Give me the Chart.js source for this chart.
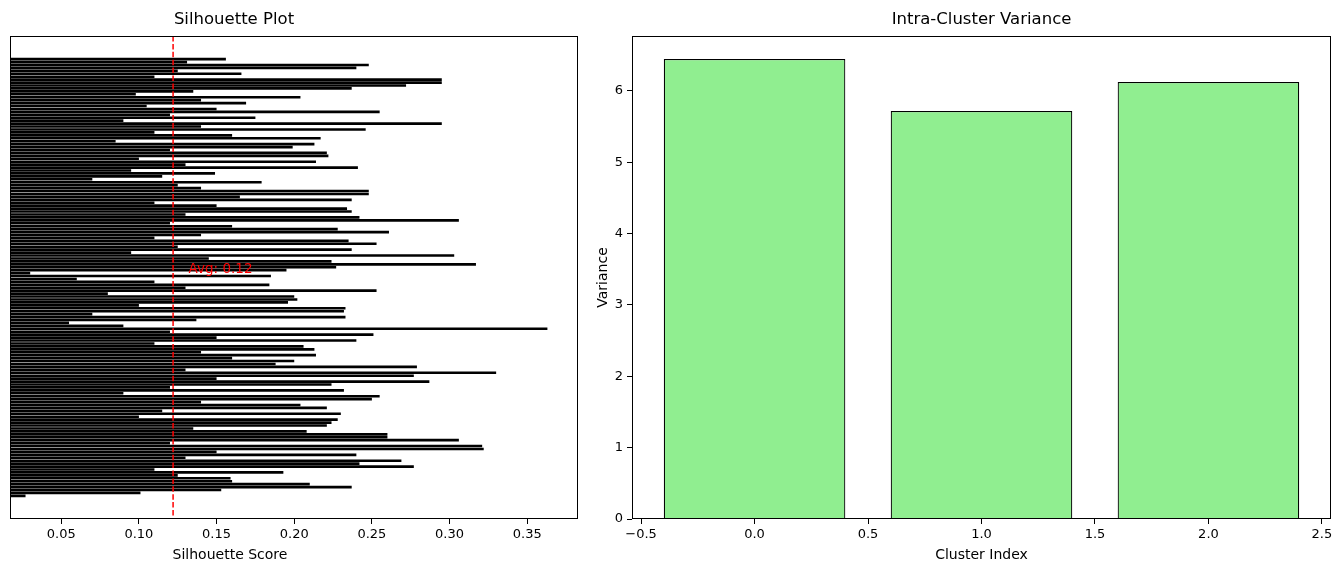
<!DOCTYPE html>
<html>
<head>
<meta charset="utf-8">
<script src="https://cdn.jsdelivr.net/npm/chart.js"></script>
<style>
  html, body { margin: 0; padding: 0; background: #fff; }
  body { width: 1341px; height: 573px; position: relative; overflow: hidden; }
  .box { position: absolute; top: 0; height: 573px; }
  #leftBox { left: 0; width: 600px; }
  #rightBox { left: 580px; width: 761px; }
</style>
</head>
<body>
<div id="leftBox" class="box"><canvas id="silhouetteChart"></canvas></div>
<div id="rightBox" class="box"><canvas id="varianceChart"></canvas></div>
<script>
// silhouette score per sample, sample 0 is the bottom bar
var silhouetteScores = [
  0.027, 0.101, 0.153, 0.237, 0.210, 0.160, 0.159, 0.125, 0.193, 0.110,
  0.277, 0.242, 0.269, 0.130, 0.240, 0.150, 0.322, 0.321, 0.120, 0.306,
  0.260, 0.260, 0.208, 0.135, 0.221, 0.224, 0.228, 0.100, 0.230, 0.115,
  0.221, 0.204, 0.140, 0.250, 0.255, 0.090, 0.232, 0.120, 0.224, 0.287,
  0.150, 0.277, 0.330, 0.130, 0.279, 0.188, 0.200, 0.160, 0.214, 0.140,
  0.213, 0.206, 0.110, 0.240, 0.150, 0.251, 0.120, 0.363, 0.090, 0.055,
  0.137, 0.233, 0.070, 0.232, 0.233, 0.100, 0.196, 0.202, 0.200, 0.080,
  0.253, 0.130, 0.184, 0.110, 0.060, 0.185, 0.030, 0.195, 0.227, 0.317,
  0.224, 0.145, 0.303, 0.095, 0.237, 0.125, 0.253, 0.235, 0.110, 0.140,
  0.261, 0.228, 0.160, 0.120, 0.306, 0.242, 0.130, 0.237, 0.234, 0.150,
  0.110, 0.237, 0.165, 0.248, 0.248, 0.140, 0.125, 0.179, 0.070, 0.115,
  0.149, 0.095, 0.241, 0.130, 0.214, 0.100, 0.222, 0.221, 0.120, 0.199,
  0.213, 0.085, 0.217, 0.160, 0.110, 0.246, 0.140, 0.295, 0.090, 0.175,
  0.120, 0.255, 0.150, 0.105, 0.169, 0.140, 0.204, 0.098, 0.135, 0.237,
  0.272, 0.295, 0.295, 0.110, 0.166, 0.125, 0.240, 0.248, 0.131, 0.156
];
var avgScore = 0.122;
var scoreTicks = [0.05, 0.10, 0.15, 0.20, 0.25, 0.30, 0.35];

var clusterIds = [0, 1, 2];
var clusterVariance = [6.449, 5.72, 6.126];
var clusterTicks = [-0.5, 0.0, 0.5, 1.0, 1.5, 2.0, 2.5];
var varianceTicks = [0, 1, 2, 3, 4, 5, 6];

var FONT = 'DejaVu Sans';

// box around the axes like matplotlib
var framePlugin = {
    id: 'frame',
    afterDraw: function(chart) {
        var a = chart.chartArea, ctx = chart.ctx;
        ctx.save();
        ctx.strokeStyle = '#000';
        ctx.lineWidth = 1;
        ctx.strokeRect(Math.round(a.left) + 0.5, Math.round(a.top) + 0.5,
            Math.round(a.right - a.left) - 1, Math.round(a.bottom - a.top) - 1);
        ctx.restore();
    }
};

// titles and axis labels
var textPlugin = {
    id: 'texts',
    afterDraw: function(chart, args, opts) {
        var ctx = chart.ctx, a = chart.chartArea;
        (opts.items || []).forEach(function(it) {
            ctx.save();
            ctx.fillStyle = it.color || '#000';
            ctx.font = it.size + 'px "' + FONT + '"';
            ctx.textAlign = 'center';
            ctx.textBaseline = 'middle';
            var x = it.x != null ? it.x : (a.left + a.right) / 2;
            var y = it.y != null ? it.y : (a.top + a.bottom) / 2;
            ctx.translate(x, y);
            if (it.rotate) ctx.rotate(it.rotate);
            ctx.fillText(it.text, 0, 0);
            ctx.restore();
        });
    }
};

// dashed average line + label
var avgPlugin = {
    id: 'avgLine',
    afterDatasetsDraw: function(chart) {
        var ctx = chart.ctx, a = chart.chartArea;
        var xs = chart.scales.x, ys = chart.scales.y;
        var px = xs.getPixelForValue(avgScore);
        ctx.save();
        ctx.strokeStyle = '#ff0000';
        ctx.lineWidth = 1.5;
        ctx.setLineDash([5.5, 2.4]);
        ctx.beginPath();
        ctx.moveTo(px, a.top);
        ctx.lineTo(px, a.bottom);
        ctx.stroke();
        ctx.setLineDash([]);
        ctx.fillStyle = '#ff0000';
        ctx.font = '13.5px "' + FONT + '"';
        ctx.textAlign = 'left';
        ctx.textBaseline = 'bottom';
        ctx.fillText('Avg: ' + avgScore.toFixed(2), xs.getPixelForValue(avgScore + 0.01),
            ys.getPixelForValue(silhouetteScores.length / 2));
        ctx.restore();
    }
};

var tickFont = { family: FONT, size: 13 };
var tickGrid = { drawOnChartArea: false, drawTicks: true, tickLength: 5, tickColor: '#000', color: '#000' };

document.addEventListener('DOMContentLoaded', function() {
    var n = silhouetteScores.length;
    var silData = silhouetteScores.map(function(v, i) { return { x: v, y: i }; });

    new Chart(document.getElementById('silhouetteChart').getContext('2d'), {
        type: 'bar',
        data: {
            datasets: [{
                data: silData,
                backgroundColor: '#000',
                borderWidth: 0,
                barPercentage: 0.9,
                categoryPercentage: 1.0
            }]
        },
        options: {
            indexAxis: 'y',
            responsive: true,
            maintainAspectRatio: false,
            animation: false,
            layout: { padding: { left: 10, right: 22, top: 36, bottom: 0 } },
            plugins: {
                legend: { display: false },
                tooltip: { enabled: false },
                texts: { items: [
                    { text: 'Silhouette Plot', size: 16.5, x: 234, y: 20 },
                    { text: 'Silhouette Score', size: 14, x: 230, y: 555 }
                ] }
            },
            scales: {
                x: {
                    type: 'linear', min: 0.017, max: 0.3827, offset: false,
                    afterBuildTicks: function(s) { s.ticks = scoreTicks.map(function(v) { return { value: v }; }); },
                    afterFit: function(s) { s.height = 54; },
                    ticks: { callback: function(v) { return v.toFixed(2); }, font: tickFont, color: '#000', padding: 3, maxRotation: 0, autoSkip: false },
                    grid: tickGrid,
                    border: { display: false }
                },
                y: {
                    type: 'linear', display: false, offset: false,
                    min: -0.4 - 0.05 * (n - 0.2), max: n - 0.6 + 0.05 * (n - 0.2)
                }
            }
        },
        plugins: [framePlugin, textPlugin, avgPlugin]
    });

    var varData = clusterIds.map(function(c, i) { return { x: c, y: clusterVariance[i] }; });

    new Chart(document.getElementById('varianceChart').getContext('2d'), {
        type: 'bar',
        data: {
            datasets: [{
                data: varData,
                xAxisID: 'xBar',
                backgroundColor: '#90ee90',
                borderColor: '#000',
                borderWidth: 1.2,
                barPercentage: 0.8,
                categoryPercentage: 1.0
            }]
        },
        options: {
            responsive: true,
            maintainAspectRatio: false,
            animation: false,
            layout: { padding: { left: 0, right: 10, top: 36, bottom: 0 } },
            plugins: {
                legend: { display: false },
                tooltip: { enabled: false },
                texts: { items: [
                    { text: 'Intra-Cluster Variance', size: 16.5, y: 20 },
                    { text: 'Cluster Index', size: 14, y: 555 },
                    { text: 'Variance', size: 14, x: 23, rotate: -Math.PI / 2 }
                ] }
            },
            scales: {
                // bars are placed on this one, one unit apart
                xBar: {
                    type: 'linear', display: false, offset: false, position: 'bottom',
                    min: -0.54, max: 2.54,
                    afterBuildTicks: function(s) { s.ticks = clusterIds.map(function(v) { return { value: v }; }); }
                },
                x: {
                    type: 'linear', min: -0.54, max: 2.54, offset: false, position: 'bottom',
                    afterBuildTicks: function(s) { s.ticks = clusterTicks.map(function(v) { return { value: v }; }); },
                    afterFit: function(s) { s.height = 54; },
                    ticks: { callback: function(v) { return v < 0 ? '\u2212' + Math.abs(v).toFixed(1) : v.toFixed(1); }, font: tickFont, color: '#000', padding: 3, maxRotation: 0, autoSkip: false },
                    grid: Object.assign({ offset: false }, tickGrid),
                    border: { display: false }
                },
                y: {
                    type: 'linear', min: 0, max: 6.771,
                    afterBuildTicks: function(s) { s.ticks = varianceTicks.map(function(v) { return { value: v }; }); },
                    afterFit: function(s) { s.width = 52; },
                    ticks: { callback: function(v) { return String(v); }, font: tickFont, color: '#000', padding: 4 },
                    grid: tickGrid,
                    border: { display: false }
                }
            }
        },
        plugins: [framePlugin, textPlugin]
    });
});
</script>
</body>
</html>
